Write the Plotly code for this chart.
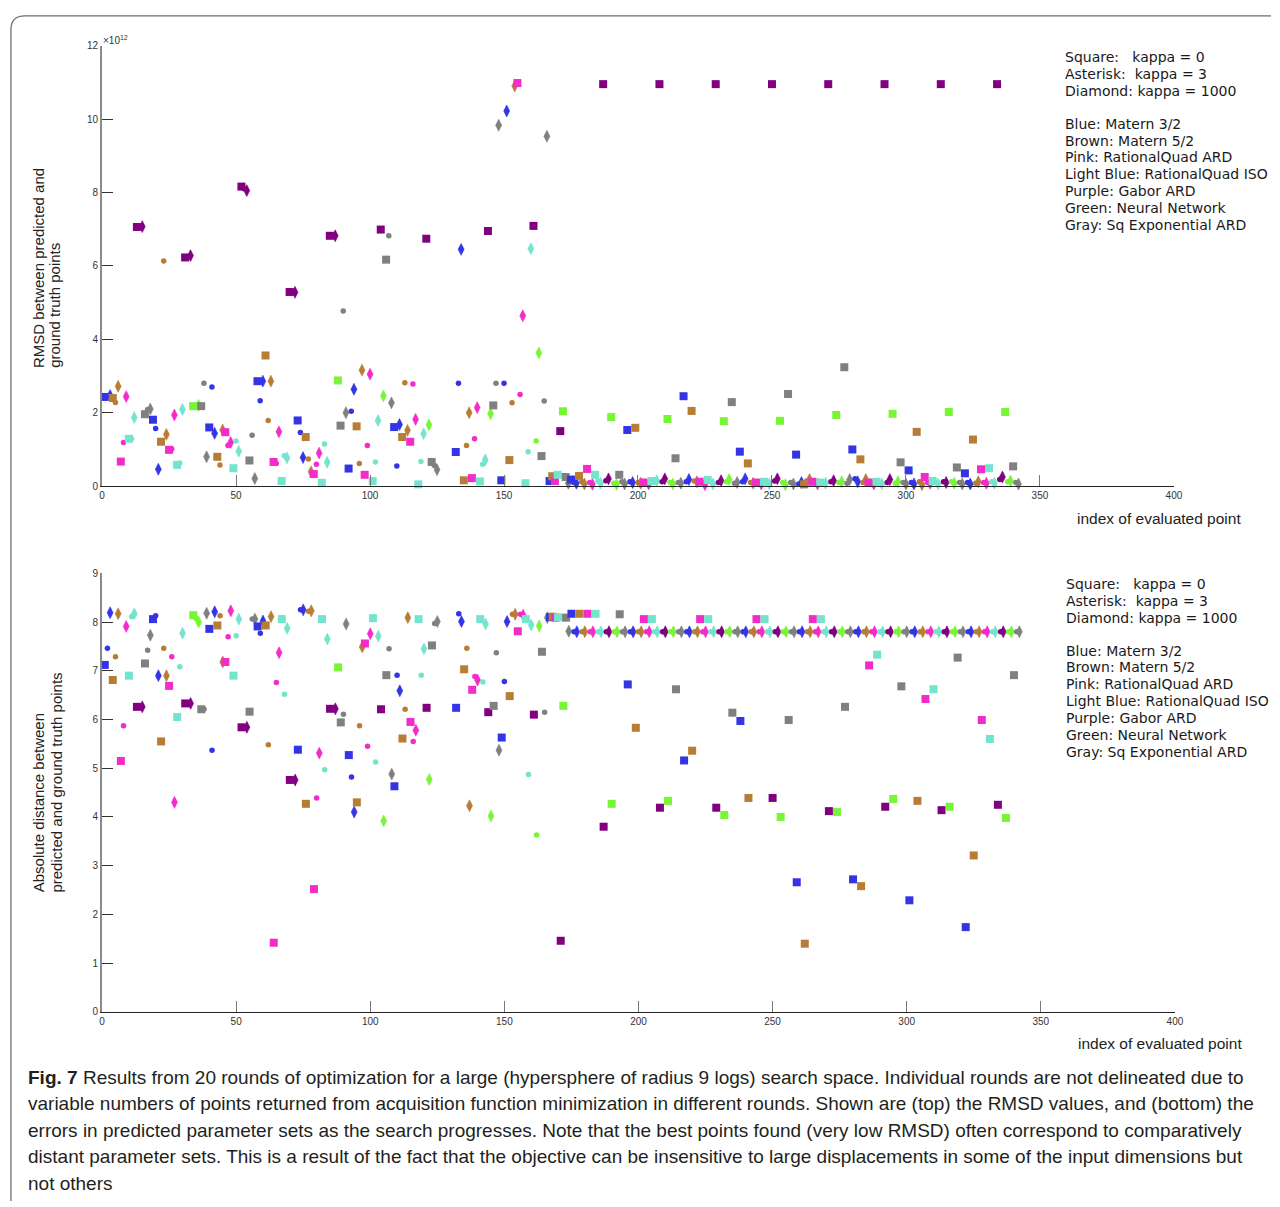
import plotly.graph_objects as go

W, H = 1280, 1207


def px(x):
    return x / W


def py(y):
    return 1 - y / H


# ---------------- data ----------------
# model codes: B=Matern 3/2 (blue), R=Matern 5/2 (brown), P=RationalQuad ARD (pink),
# L=RationalQuad ISO (light blue), U=Gabor ARD (purple), G=Neural Network (green),
# Y=Sq Exponential ARD (gray)
# kappa codes: s = square (kappa 0), c = asterisk (kappa 3), d = diamond (kappa 1000)

IDX = [*range(1, 126), *range(132, 343)]

MODEL_EARLY = ("BBBRRRPPPLLLUUUYYY"
               "BBBRRRPPPLLLUUUGGGYYY"
               "BBBRRRPPPLLLUUUYYY"
               "BBBRRRPPPLLLUUU"
               "BBBRRRPPPLLLUUUGYYY"
               "BBBRRRPPPLLLUGYYY"
               "BBBRRRPPPLLLUGYYY"
               "BBBRRRPPPLLLUGYYY"
               "BBBRRRPPPLLLUGGYYY"
               "BRPLUGYY")
KAPPA_EARLY = ("scdscdscdscdscdscd"
               "scdscdscdscdscdscdscd"
               "scdscdscdscdscdscd"
               "scdscdscdscdscd"
               "scdscdscdscdscdsscd"
               "scdscdscdscdsdscd"
               "scdscdscdscdsdscd"
               "scdscdscdscdsdscd"
               "scdscdscdscdscdscd"
               "sssssssd")
MODEL_REG = ("BBBRRRPPPLLLUUUGGGYYY" "BBBRRRPPPLLLUUUGGGYYY" "BBBRRRPPPLLLUUUGGGYYY"
             "BBBRRRPPPLLLUUUGGGYYY" "BBBRRRPPPLLLUUUGGGYYY" "BBBRRRPPPLLLUUUGGGYYY"
             "BBBRRRPPPLLLUUUGGGYYY" "BBBRRRPPPLLLUUUGGGYYY")
KAPPA_REG = ("scdscdscdscdscdscdscd" "scdscdscdscdscdscdscd" "scdscdscdscdscdscdscd"
             "scdscdscdscdscdscdscd" "scdscdscdscdscdscdscd" "scdscdscdscdscdscdscd"
             "scdscdscdscdscdscdscd" "scdscdscdscdscdscdscd")

# RMSD between predicted and ground truth points (x 1e12)
RMSD_EARLY = [
    2.43, 2.45, 2.47, 2.40, 2.28, 2.72, 0.67, 1.19, 2.44, 1.29, 1.29, 1.87, 7.06, 7.06, 7.07, 1.96, 2.09, 2.10,
    1.81, 1.57, 0.46, 1.21, 6.13, 1.41, 0.99, 1.01, 1.94, 0.58, 0.63, 2.09, 6.23, 6.25, 6.28, 2.18, 2.18, 2.20, 2.18, 2.80, 0.80,
    1.60, 2.70, 1.44, 0.80, 0.58, 1.53, 1.47, 1.11, 1.19, 0.49, 1.23, 0.95, 8.16, 8.10, 8.05, 0.70, 1.39, 0.21,
    2.86, 2.33, 2.86, 3.56, 1.79, 2.86, 0.66, 0.62, 1.48, 0.14, 0.83, 0.77, 5.29, 5.28, 5.28,
    1.79, 1.46, 0.78, 1.34, 0.74, 0.39, 0.33, 0.60, 0.90, 0.09, 1.15, 0.65, 6.82, 6.82, 6.82, 2.88, 1.65, 4.77, 2.00,
    0.48, 2.04, 2.64, 1.63, 0.62, 3.16, 0.31, 1.11, 3.05, 0.14, 0.66, 1.79, 6.99, 2.46, 6.17, 6.82, 2.27,
    1.61, 0.55, 1.68, 1.34, 2.82, 1.52, 1.21, 2.78, 1.82, 0.05, 0.67, 1.43, 6.74, 1.67, 0.66, 0.56, 0.45,
    0.93, 2.80, 6.45, 0.16, 1.11, 2.00, 0.22, 1.29, 2.14, 0.13, 0.60, 0.72, 6.95, 1.97, 2.20, 2.80, 9.83,
    0.16, 2.80, 10.22, 0.71, 2.27, 10.90, 10.98, 2.50, 4.64, 0.08, 0.94, 6.47, 7.09, 1.23, 3.63, 0.82, 2.32, 9.53,
    0.14, 0.27, 0.14, 0.31, 1.50, 2.04, 0.25, 0.08,
]
RMSD_REG = [
    0.18, 0.10, 0.08, 0.28, 0.12, 0.06, 0.47, 0.10, 0.05, 0.31, 0.14, 0.08, 10.95, 0.15, 0.20, 1.88, 0.08, 0.05, 0.31, 0.12, 0.06,
    1.53, 0.12, 0.10, 1.59, 0.10, 0.08, 0.10, 0.05, 0.06, 0.14, 0.12, 0.15, 10.95, 0.12, 0.20, 1.83, 0.10, 0.06, 0.76, 0.10, 0.08,
    2.45, 0.12, 0.18, 2.05, 0.14, 0.12, 0.12, 0.10, 0.04, 0.17, 0.12, 0.06, 10.95, 0.10, 0.15, 1.77, 0.12, 0.18, 2.29, 0.08, 0.10,
    0.94, 0.12, 0.20, 0.62, 0.10, 0.08, 0.10, 0.12, 0.06, 0.12, 0.10, 0.06, 10.95, 0.14, 0.20, 1.78, 0.10, 0.04, 2.51, 0.10, 0.06,
    0.86, 0.06, 0.10, 0.05, 0.15, 0.18, 0.12, 0.10, 0.06, 0.10, 0.12, 0.08, 10.95, 0.12, 0.15, 1.94, 0.10, 0.12, 3.24, 0.08, 0.18,
    1.00, 0.20, 0.12, 0.73, 0.10, 0.18, 0.10, 0.12, 0.06, 0.12, 0.08, 0.06, 10.95, 0.10, 0.18, 1.97, 0.08, 0.12, 0.65, 0.10, 0.06,
    0.43, 0.10, 0.06, 1.48, 0.12, 0.04, 0.25, 0.10, 0.08, 0.14, 0.10, 0.06, 10.95, 0.12, 0.10, 2.02, 0.12, 0.08, 0.51, 0.10, 0.06,
    0.35, 0.10, 0.06, 1.27, 0.08, 0.12, 0.46, 0.10, 0.08, 0.49, 0.12, 0.08, 10.95, 0.18, 0.25, 2.02, 0.12, 0.14, 0.54, 0.10, 0.06,
]

# Absolute distance between predicted and ground truth points
DIST_EARLY = [
    7.12, 7.46, 8.19, 6.81, 7.29, 8.17, 5.15, 5.87, 7.91, 6.90, 8.11, 8.17, 6.26, 6.26, 6.26, 7.15, 7.42, 7.73,
    8.06, 8.13, 6.90, 5.55, 7.46, 6.90, 6.69, 7.29, 4.30, 6.05, 7.08, 7.77, 6.33, 6.33, 6.33, 8.14, 8.07, 8.00, 6.21, 6.21, 8.18,
    7.86, 5.37, 8.21, 7.93, 8.13, 7.18, 7.18, 7.70, 8.23, 6.90, 7.72, 8.06, 5.84, 5.84, 5.84, 6.16, 8.06, 8.06,
    7.91, 7.77, 8.02, 7.93, 5.48, 8.11, 1.42, 6.76, 7.37, 8.06, 6.52, 7.87, 4.76, 4.76, 4.76,
    5.38, 8.25, 8.25, 4.27, 8.22, 8.23, 2.52, 4.39, 5.31, 8.06, 4.97, 7.65, 6.22, 6.22, 6.22, 7.07, 5.94, 6.11, 7.96,
    5.27, 4.82, 4.10, 4.30, 5.87, 7.49, 7.56, 5.45, 7.76, 8.08, 5.13, 7.71, 6.21, 3.92, 6.91, 7.45, 4.88,
    4.63, 6.91, 6.59, 5.61, 6.21, 8.09, 5.95, 5.55, 5.78, 8.06, 6.91, 7.45, 6.24, 4.77, 7.52, 7.97, 8.01,
    6.24, 8.17, 8.01, 7.03, 7.46, 4.23, 6.61, 6.88, 6.81, 8.06, 6.77, 7.96, 6.15, 4.02, 6.28, 7.37, 5.37,
    5.63, 6.78, 8.01, 6.48, 8.16, 8.16, 7.81, 8.16, 8.14, 8.06, 4.87, 7.94, 6.10, 3.63, 7.92, 7.39, 6.15, 8.09,
    8.10, 8.11, 8.09, 8.10, 1.46, 6.28, 8.09, 7.81,
]
DIST_REG = [
    8.17, 7.8, 7.8, 8.17, 7.8, 7.8, 8.17, 7.8, 7.8, 8.17, 7.8, 7.8, 3.80, 7.8, 7.8, 4.27, 7.8, 7.8, 8.16, 7.8, 7.8,
    6.72, 7.8, 7.8, 5.83, 7.8, 7.8, 8.06, 7.8, 7.8, 8.06, 7.8, 7.8, 4.19, 7.8, 7.8, 4.33, 7.8, 7.8, 6.62, 7.8, 7.8,
    5.16, 7.8, 7.8, 5.36, 7.8, 7.8, 8.06, 7.8, 7.8, 8.06, 7.8, 7.8, 4.19, 7.8, 7.8, 4.04, 7.8, 7.8, 6.14, 7.8, 7.8,
    5.97, 7.8, 7.8, 4.39, 7.8, 7.8, 8.06, 7.8, 7.8, 8.06, 7.8, 7.8, 4.39, 7.8, 7.8, 4.00, 7.8, 7.8, 5.99, 7.8, 7.8,
    2.66, 7.8, 7.8, 1.40, 7.8, 7.8, 8.06, 7.8, 7.8, 8.06, 7.8, 7.8, 4.12, 7.8, 7.8, 4.10, 7.8, 7.8, 6.26, 7.8, 7.8,
    2.72, 7.8, 7.8, 2.58, 7.8, 7.8, 7.11, 7.8, 7.8, 7.33, 7.8, 7.8, 4.21, 7.8, 7.8, 4.37, 7.8, 7.8, 6.68, 7.8, 7.8,
    2.29, 7.8, 7.8, 4.33, 7.8, 7.8, 6.42, 7.8, 7.8, 6.62, 7.8, 7.8, 4.14, 7.8, 7.8, 4.21, 7.8, 7.8, 7.27, 7.8, 7.8,
    1.74, 7.8, 7.8, 3.21, 7.8, 7.8, 5.99, 7.8, 7.8, 5.60, 7.8, 7.8, 4.25, 7.8, 7.8, 3.98, 7.8, 7.8, 6.91, 7.8, 7.8,
]

X_TICKS = [0, 50, 100, 150, 200, 250, 300, 350, 400]
Y1_TICKS = [0, 2, 4, 6, 8, 10, 12]
Y2_TICKS = [0, 1, 2, 3, 4, 5, 6, 7, 8, 9]

LEGEND_LINES = ["Square:\u00a0\u00a0 kappa = 0", "Asterisk:\u00a0 kappa = 3", "Diamond: kappa = 1000",
                "Blue: Matern 3/2", "Brown: Matern 5/2", "Pink: RationalQuad ARD",
                "Light Blue: RationalQuad ISO", "Purple: Gabor ARD", "Green: Neural Network",
                "Gray: Sq Exponential ARD"]

CAPTION_LINES = [
    "<b>Fig. 7</b> Results from 20 rounds of optimization for a large (hypersphere of radius 9 logs) search space. Individual rounds are not delineated due to",
    "variable numbers of points returned from acquisition function minimization in different rounds. Shown are (top) the RMSD values, and (bottom) the",
    "errors in predicted parameter sets as the search progresses. Note that the best points found (very low RMSD) often correspond to comparatively",
    "distant parameter sets. This is a result of the fact that the objective can be insensitive to large displacements in some of the input dimensions but",
    "not others",
]

# ---------------- styling ----------------
COLORS = {'B': '#3434e6', 'R': '#b77d35', 'P': '#f32bc8', 'L': '#74e4cd',
          'U': '#800080', 'G': '#78f535', 'Y': '#808080'}
SYMBOLS = {'s': 'square', 'c': 'circle', 'd': 'diamond-tall'}
SIZES = {'s': 8, 'c': 5.5, 'd': 8.5}
LINEW = {'s': 0, 'c': 0, 'd': 0.6}

models = MODEL_EARLY + MODEL_REG
kappas = KAPPA_EARLY + KAPPA_REG
rmsd = RMSD_EARLY + RMSD_REG
dist = DIST_EARLY + DIST_REG
assert len(models) == len(kappas) == len(rmsd) == len(dist) == len(IDX), (
    len(models), len(kappas), len(rmsd), len(dist), len(IDX))

marker = dict(
    color=[COLORS[m] for m in models],
    symbol=[SYMBOLS[k] for k in kappas],
    size=[SIZES[k] for k in kappas],
    opacity=1,
    line=dict(color=[COLORS[m] for m in models], width=[LINEW[k] for k in kappas]),
)

fig = go.Figure()
fig.add_trace(go.Scatter(x=IDX, y=rmsd, mode='markers', marker=marker, cliponaxis=False,
                         xaxis='x', yaxis='y', showlegend=False))
fig.add_trace(go.Scatter(x=IDX, y=dist, mode='markers', marker=marker, cliponaxis=False,
                         xaxis='x2', yaxis='y2', showlegend=False))

tickfont = dict(family='Liberation Sans, Arial, sans-serif', size=10, color='#333333')
xcommon = dict(range=[0, 400], tickvals=X_TICKS, ticks='inside', ticklen=11, tickwidth=1.2,
               tickcolor='#777777', showline=True, linecolor='#262626', linewidth=1.2,
               showgrid=False, zeroline=False, tickfont=tickfont)
ycommon = dict(ticks='inside', ticklen=11, tickwidth=1.2, tickcolor='#333333', showline=True,
               linecolor='#8a8a8a', linewidth=2, showgrid=False, zeroline=False, tickfont=tickfont)

fig.update_layout(
    width=W, height=H, margin=dict(l=0, r=0, t=0, b=0),
    paper_bgcolor='white', plot_bgcolor='white',
    font=dict(family='Liberation Sans, Arial, sans-serif', color='#222222'),
    xaxis=dict(domain=[px(100), px(1182)], anchor='y', **xcommon),
    yaxis=dict(domain=[py(485), py(40)], anchor='x', range=[0, 12], tickvals=Y1_TICKS, **ycommon),
    xaxis2=dict(domain=[px(100), px(1183)], anchor='y2', **xcommon),
    yaxis2=dict(domain=[py(1016), py(573)], anchor='x2', range=[0, 9], tickvals=Y2_TICKS, **ycommon),
)

ann = []
lab = dict(family='Liberation Sans, Arial, sans-serif', size=15, color='#222222')
# exponent
ann.append(dict(x=px(99), y=py(34), text='×10<sup>12</sup>', xanchor='left', yanchor='middle',
                font=dict(family='Liberation Sans, Arial, sans-serif', size=10, color='#333333')))
# y labels
ann.append(dict(x=px(36), y=py(368), text='RMSD between predicted and', textangle=-90,
                xanchor='center', yanchor='bottom', font=lab))
ann.append(dict(x=px(52.5), y=py(368), text='ground truth points', textangle=-90,
                xanchor='center', yanchor='bottom', font=lab))
ann.append(dict(x=px(36), y=py(897), text='Absolute distance between', textangle=-90,
                xanchor='center', yanchor='bottom', font=lab))
ann.append(dict(x=px(54), y=py(897), text='predicted and ground truth points', textangle=-90,
                xanchor='center', yanchor='bottom', font=lab))
# x labels
ann.append(dict(x=px(1082), y=py(518), text='index of evaluated point', xanchor='left',
                yanchor='middle', font=dict(lab, size=15.5)))
ann.append(dict(x=px(1083), y=py(1048), text='index of evaluated point', xanchor='left',
                yanchor='middle', font=dict(lab, size=15.5)))
# legend text blocks
leg_font = dict(family='DejaVu Sans, Verdana, sans-serif', size=14, color='#1a1a1a')
for x0, ys in [(1070, [52, 69, 86, 119, 136, 153, 170, 187, 204, 221]),
               (1071, [584, 601, 618, 651, 668, 685, 702, 719, 736, 753])]:
    for t, yy in zip(LEGEND_LINES, ys):
        ann.append(dict(x=px(x0), y=py(yy), text=t, xanchor='left', yanchor='middle', font=leg_font))
# caption
cap_font = dict(family='Liberation Sans, Arial, sans-serif', size=19, color='#231f20')
for t, yy in zip(CAPTION_LINES, [1082, 1109, 1136, 1162, 1189]):
    ann.append(dict(x=px(23), y=py(yy), text=t, xanchor='left', yanchor='middle', font=cap_font))

for a in ann:
    a.update(xref='paper', yref='paper', showarrow=False)
fig.update_layout(annotations=ann)

# rounded frame around the figure (kept inside the page)
frame = (f"M {px(1280)},{py(10)} L {px(22)},{py(10)} Q {px(8)},{py(10)} {px(8)},{py(24)} "
         f"L {px(8)},{py(1207)}")
fig.add_shape(type='path', path=frame, xref='paper', yref='paper',
              line=dict(color='#6e6e6e', width=1.3))

fig.write_html("out.html",
               post_script="document.body.style.margin='0';document.body.style.overflow='hidden';")
